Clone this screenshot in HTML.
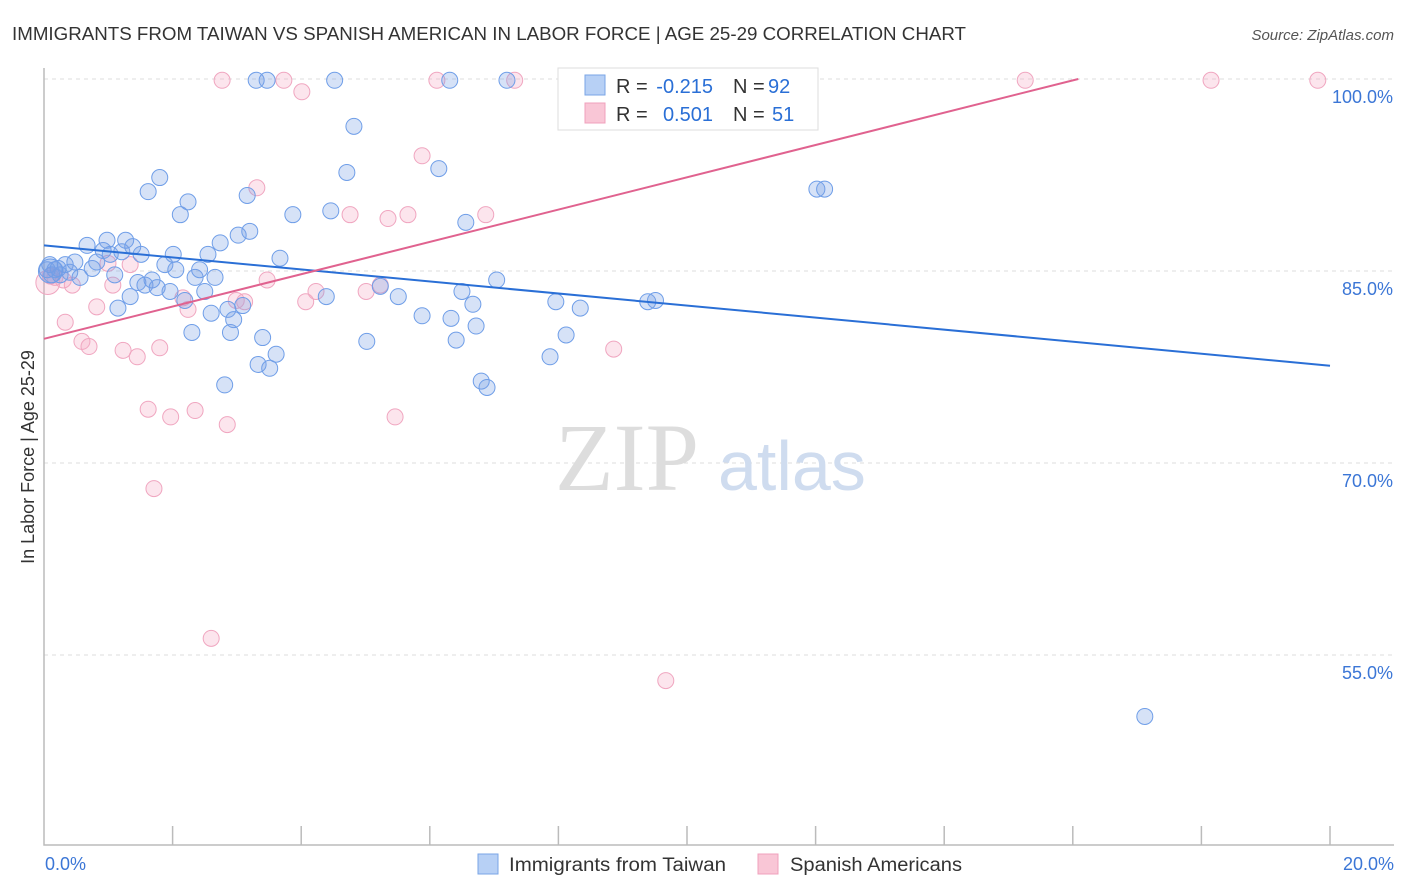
<!DOCTYPE html>
<html><head><meta charset="utf-8"><style>
body{margin:0;background:#fff;font-family:"Liberation Sans",sans-serif}
svg{display:block}
</style></head><body>
<svg id="c" width="1406" height="892" xmlns="http://www.w3.org/2000/svg">
<text x="12" y="40" font-size="18" fill="#333" textLength="954" lengthAdjust="spacingAndGlyphs">IMMIGRANTS FROM TAIWAN VS SPANISH AMERICAN IN LABOR FORCE | AGE 25-29 CORRELATION CHART</text>
<text x="1394" y="40" font-size="15" fill="#555" font-style="italic" text-anchor="end">Source: ZipAtlas.com</text>
<text x="34" y="457" font-size="18" fill="#333" text-anchor="middle" transform="rotate(-90 34 457)">In Labor Force | Age 25-29</text>
<g id="grid"></g>
<text x="555" y="490" font-size="96" fill="#ddd" font-family="Liberation Serif,serif">ZIP</text>
<text x="718" y="490" font-size="70" fill="#cfdcef">atlas</text>
<g id="marks"></g>
<g>
<rect x="558" y="68" width="260" height="62" fill="#fff" stroke="#ddd"/>
<rect x="585" y="75" width="20" height="20" fill="#b7d0f5" stroke="#7aa5e6"/>
<text x="616" y="93" font-size="20" fill="#333">R =</text>
<text x="713" y="93" font-size="20" fill="#2a6fd6" text-anchor="end">-0.215</text>
<text x="733" y="93" font-size="20" fill="#333">N =</text>
<text x="768" y="93" font-size="20" fill="#2a6fd6">92</text>
<rect x="585" y="103" width="20" height="20" fill="#f9c6d6" stroke="#f0a0bc"/>
<text x="616" y="121" font-size="20" fill="#333">R =</text>
<text x="713" y="121" font-size="20" fill="#2a6fd6" text-anchor="end">0.501</text>
<text x="733" y="121" font-size="20" fill="#333">N =</text>
<text x="772" y="121" font-size="20" fill="#2a6fd6">51</text>
</g>
<rect x="478" y="854" width="20" height="20" fill="#b7d0f5" stroke="#7aa5e6"/>
<text x="509" y="871" font-size="19" fill="#333" textLength="217" lengthAdjust="spacingAndGlyphs">Immigrants from Taiwan</text>
<rect x="758" y="854" width="20" height="20" fill="#f9c6d6" stroke="#f0a0bc"/>
<text x="790" y="871" font-size="19" fill="#333" textLength="172" lengthAdjust="spacingAndGlyphs">Spanish Americans</text>
</svg>
<script>
const yTicks=[100,85,70,55];
const xTickLabels=["0.0%","20.0%"];
const blueX=[0.09,0.17,0.25,0.33,0.4,0.48,0.56,0.67,0.75,0.82,0.92,0.98,1.03,1.1,1.15,1.21,1.27,1.34,1.38,1.46,1.51,1.57,1.62,1.68,1.76,1.8,1.88,1.96,2.01,2.05,2.12,2.19,2.24,2.3,2.35,2.42,2.5,2.55,2.6,2.66,2.74,2.81,2.86,2.9,2.95,3.02,3.09,3.16,3.2,3.3,3.33,3.4,3.47,3.51,3.61,3.67,3.87,4.39,4.46,4.52,4.71,4.82,5.02,5.23,5.51,5.88,6.14,6.31,6.33,6.41,6.5,6.56,6.67,6.72,6.8,6.89,7.04,7.2,7.87,7.96,8.12,8.34,8.58,9.39,9.51,12.02,12.14,17.12,0.05,0.12,0.22,0.1];
const blueY=[85.5,85.1,84.7,85.5,84.9,85.7,84.5,87.0,85.2,85.7,86.6,87.4,86.3,84.7,82.1,86.5,87.4,83.0,86.9,84.1,86.3,83.9,91.2,84.3,83.7,92.3,85.5,83.4,86.3,85.1,89.4,82.7,90.4,80.2,84.5,85.1,83.4,86.3,81.7,84.5,87.2,76.1,82.0,80.2,81.2,87.8,82.3,90.9,88.1,99.9,77.7,79.8,99.9,77.4,78.5,86.0,89.4,83.0,89.7,99.9,92.7,96.3,79.5,83.8,83.0,81.5,93.0,99.9,81.3,79.6,83.4,88.8,82.4,80.7,76.4,75.9,84.3,99.9,78.3,82.6,80.0,82.1,99.7,82.6,82.7,91.4,91.4,50.2,85.1,84.7,85.2,85.0];
const pinkX=[0.06,0.17,0.33,0.44,0.59,0.7,0.82,0.995,1.07,1.23,1.34,1.45,1.62,1.71,1.8,1.97,2.16,2.24,2.35,2.6,2.77,2.85,2.99,3.12,3.31,3.47,3.73,4.01,4.07,4.23,4.76,5.01,5.23,5.35,5.46,5.66,5.88,6.11,6.87,7.32,8.86,9.35,9.67,9.89,10.51,11.09,15.26,18.15,19.81,0.1,0.3];
const pinkY=[84.1,84.5,81.0,83.9,79.5,79.1,82.2,85.6,83.9,78.8,85.5,78.3,74.2,68.0,79.0,73.6,82.9,82.0,74.1,56.3,99.9,73.0,82.7,82.6,91.5,84.3,99.9,99.0,82.6,83.4,89.4,83.4,83.9,89.1,73.6,89.4,94.0,99.9,89.4,99.9,78.9,99.9,53.0,99.9,99.9,99.9,99.9,99.9,99.9,84.6,84.3];
const blueTrend=[87.0,77.6];   // y at x=0 and x=20
const pinkTrend=[79.7,1.262];  // intercept, slope per %
const NS="http://www.w3.org/2000/svg";
const sx=v=>44+v*64.3;
const sy=v=>79+(100-v)*12.8;
function mk(tag,attrs,parent){const e=document.createElementNS(NS,tag);for(const k in attrs)e.setAttribute(k,attrs[k]);parent.appendChild(e);return e;}
const grid=document.getElementById('grid'),marks=document.getElementById('marks');
yTicks.forEach(t=>{
 const l=mk('line',{x1:44,x2:1394,y1:sy(t),y2:sy(t),stroke:'#ddd','stroke-dasharray':'4 4'},grid);
 
 
 const tx=mk('text',{x:1393,y:sy(t)+24,'font-size':18,fill:'#3b76d6','text-anchor':'end'},grid);
 tx.textContent=t.toFixed(1)+'%';
 
 
});
const ax=mk('path',{d:'M44 68V845H1394',fill:'none',stroke:'#bbb','stroke-width':1.5},grid);


for(let i=1;i<=10;i++){
 const t=mk('line',{x1:sx(i*2),x2:sx(i*2),y1:826,y2:845,stroke:'#bbb','stroke-width':1.5},grid);
 
 
}
xTickLabels.forEach((s,i)=>{
 const t=mk('text',{x:i?1394:45,y:870,'font-size':18,fill:'#3b76d6','text-anchor':i?'end':'start'},grid);
 t.textContent=s;
 
 
});
pinkX.forEach((x,i)=>{
 const c=mk('circle',{cx:sx(x),cy:sy(pinkY[i]),r:i==0?12:8,fill:'rgba(246,170,196,0.3)',stroke:'#f0a6c0','stroke-width':1},marks);
 
 
});
blueX.forEach((x,i)=>{
 const c=mk('circle',{cx:sx(x),cy:sy(blueY[i]),r:i==blueX.length-1?12:8,fill:'rgba(120,160,230,0.3)',stroke:'#6f9ee8','stroke-width':1},marks);
 
 
});
const bl=mk('line',{x1:sx(0),y1:sy(blueTrend[0]),x2:sx(20),y2:sy(blueTrend[1]),stroke:'#2a6fd6','stroke-width':2},marks);


const pxEnd=(100-pinkTrend[0])/pinkTrend[1];
const pl=mk('line',{x1:sx(0),y1:sy(pinkTrend[0]),x2:sx(pxEnd),y2:sy(100),stroke:'#e0628f','stroke-width':2},marks);


</script>
</body></html>
